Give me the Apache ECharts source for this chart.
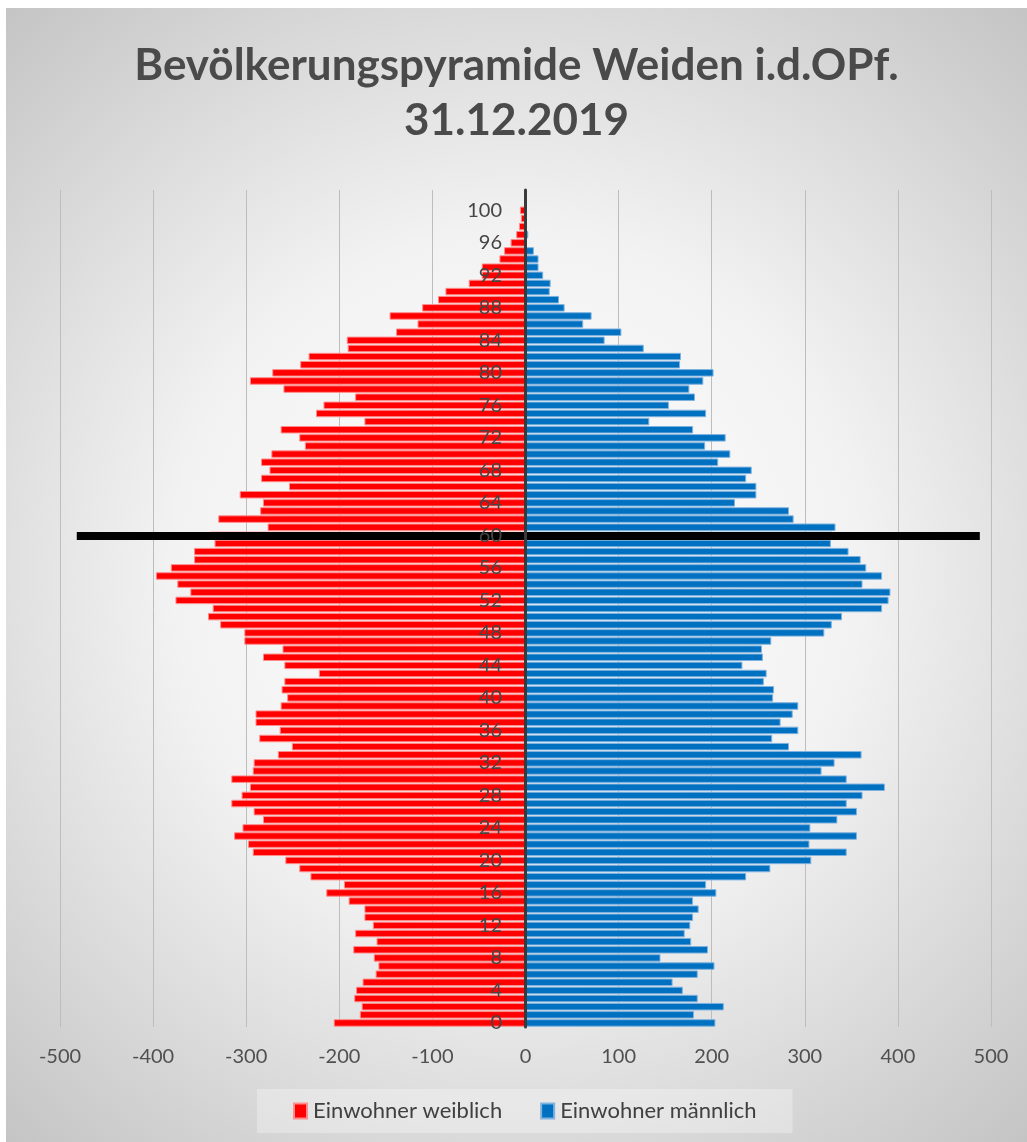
<!DOCTYPE html>
<html>
<head>
<meta charset="utf-8">
<script src="https://cdn.jsdelivr.net/npm/echarts@6/dist/echarts.min.js"></script>
<style>
html,body{margin:0;padding:0;background:#fff;width:1027px;height:1142px;overflow:hidden;}
#chart{position:absolute;left:6px;top:8px;width:1021px;height:1134px;}
</style>
</head>
<body>
<div id="chart"></div>
<script>
// Ages 0..102 (categories)
const ages = [];
for (let a = 0; a <= 102; a++) ages.push(String(a));

// Female residents (positive counts)
const femaleCounts = [
206,178,176,184,182,175,161,158,163,185,
160,183,164,173,173,190,214,195,231,243,
258,293,298,313,304,282,292,316,305,296,
316,293,292,266,251,286,264,290,290,263,
256,262,259,222,259,282,261,302,302,328,
341,336,376,360,374,397,381,356,356,334,
339,277,330,285,282,307,254,284,275,284,
273,237,243,263,173,225,217,183,260,296,
272,242,233,191,192,139,116,146,111,94,
86,61,47,47,28,23,16,10,7,5,
6,0,0
];
// Male residents
const maleCounts = [
204,181,213,185,169,158,185,203,145,196,
178,171,177,180,186,180,205,194,237,263,
307,345,305,356,306,335,356,345,362,386,
345,318,332,361,283,265,293,274,287,293,
266,267,256,259,233,255,254,264,321,329,
340,383,390,392,362,383,366,360,347,328,
330,333,288,283,225,248,248,237,243,207,
220,193,215,180,133,194,154,182,176,191,
202,166,167,127,85,103,62,71,42,36,
26,27,19,14,14,9,1,3,0,0,
0,0,0
];
const femaleValues = femaleCounts.map(v => -v);

const seriesNames = ['Einwohner weiblich', 'Einwohner männlich'];
const titleLines = ['Bevölkerungspyramide Weiden i.d.OPf.', '31.12.2019'];
const markerAge = '60';
const markerRange = [-482, 488];

const chart = echarts.init(document.getElementById('chart'));
const font = 'Lato, "Open Sans", sans-serif';

chart.setOption({
  animation: false,
  backgroundColor: {
    type: 'radial', x: 0.5, y: 0.5, r: 0.75,
    colorStops: [
      {offset: 0, color: '#ffffff'},
      {offset: 0.45, color: '#f2f2f2'},
      {offset: 1, color: '#c4c4c4'}
    ]
  },
  graphic: [
    {type: 'text', left: 'center', top: 36, style: {text: titleLines[0], fill: '#4a4a4a', font: 'bold 44px ' + font, textAlign: 'center'}},
    {type: 'text', left: 'center', top: 91, style: {text: titleLines[1], fill: '#4a4a4a', font: 'bold 44px ' + font, textAlign: 'center'}}
  ],
  legend: {
    data: seriesNames,
    left: 251, top: 1081,
    padding: [11, 36, 11, 36],
    backgroundColor: 'rgba(255,255,255,0.3)',
    itemWidth: 13, itemHeight: 15,
    itemGap: 38,
    icon: 'rect',
    textStyle: {fontFamily: font, fontSize: 22, color: '#404040', padding: [0,0,0,1]}
  },
  grid: {left: 54, right: 36, top: 182, bottom: 115, containLabel: false},
  xAxis: {
    type: 'value', min: -500, max: 500, interval: 100,
    axisLine: {show: false}, axisTick: {show: false},
    axisLabel: {fontFamily: font, fontSize: 20, color: '#505050', margin: 20},
    splitLine: {show: true, lineStyle: {color: '#bdbdbd', width: 1}}
  },
  yAxis: {
    type: 'category', data: ages, z: 10,
    axisLine: {show: true, onZero: true, lineStyle: {color: '#3a3a3a', width: 3}},
    axisTick: {show: false},
    axisLabel: {interval: 3, fontFamily: font, fontSize: 20, color: '#454545', margin: -442, align: 'right'},
    splitLine: {show: false}
  },
  series: [
    {
      name: seriesNames[0], type: 'bar', data: femaleValues,
      barGap: '-100%', barCategoryGap: '8%',
      itemStyle: {color: '#ff0000', borderColor: '#ff8c8c', borderWidth: 1}
    },
    {
      name: seriesNames[1], type: 'bar', data: maleCounts,
      barGap: '-100%', barCategoryGap: '8%',
      itemStyle: {color: '#0070c0', borderColor: '#7fb2de', borderWidth: 1},
      markLine: {
        silent: true, symbol: ['none', 'none'],
        label: {show: false},
        lineStyle: {color: '#000000', width: 8, type: 'solid'},
        data: [[{coord: [markerRange[0], markerAge]}, {coord: [markerRange[1], markerAge]}]]
      }
    }
  ]
});
</script>
</body>
</html>
